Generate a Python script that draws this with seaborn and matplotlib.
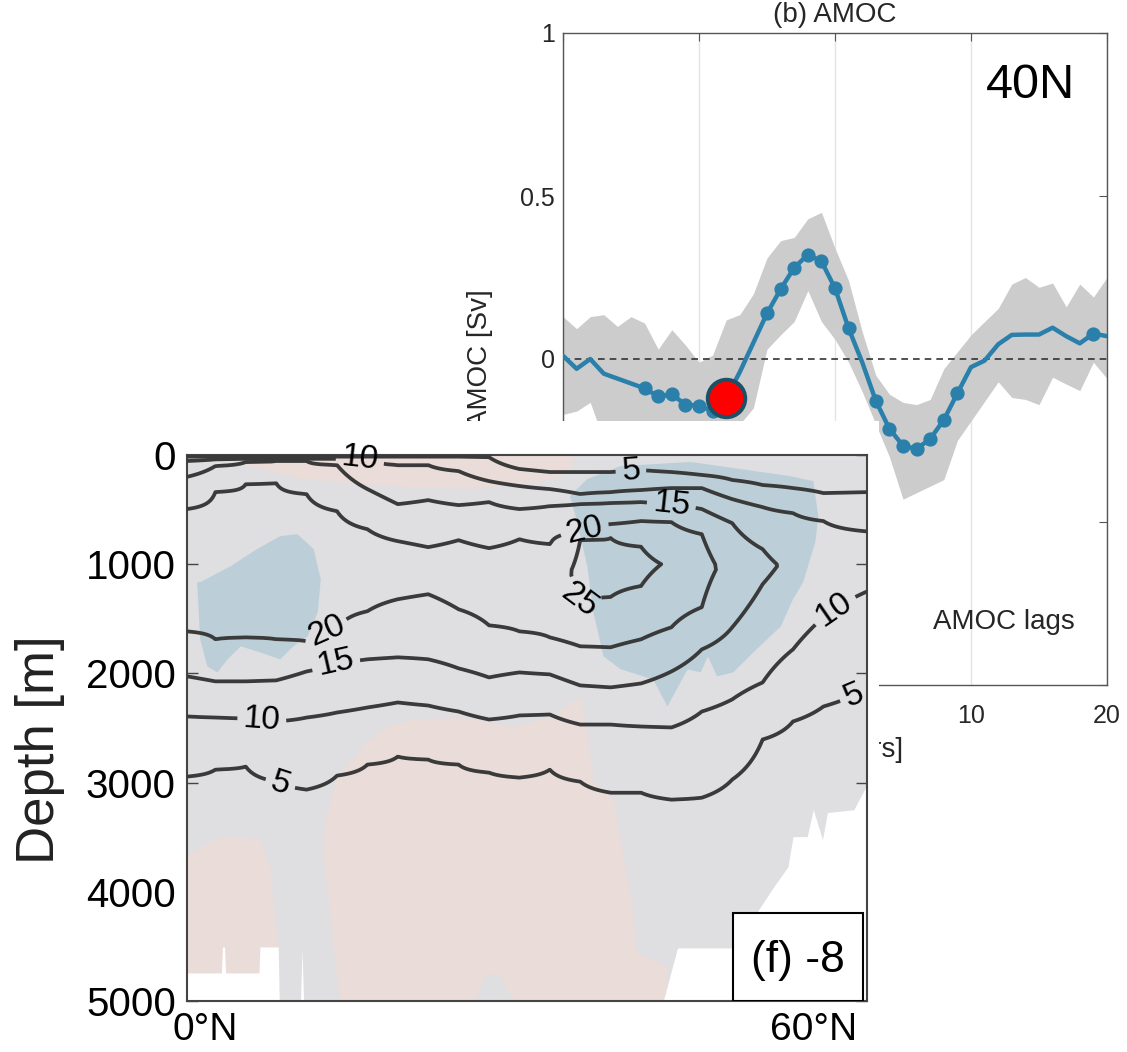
import numpy as np
import pandas as pd
import matplotlib
matplotlib.use("Agg")
import matplotlib.pyplot as plt
from matplotlib.patches import Rectangle
from matplotlib.ticker import FuncFormatter
import seaborn as sns

nan = np.nan

# ---- panel (b): AMOC lag regression ----
lags = list(range(-20, 21))
amoc_mean = [0.01, -0.03, 0.0, -0.045, -0.06, -0.075, -0.09, -0.115, -0.108, -0.14,
             -0.143, -0.16, -0.12, -0.04, 0.05, 0.14, 0.214, 0.28, 0.32, 0.30,
             0.217, 0.094, -0.01, -0.128, -0.214, -0.266, -0.276, -0.245, -0.187, -0.105,
             -0.025, -0.005, 0.045, 0.074, 0.075, 0.075, 0.096, 0.07, 0.048, 0.078, 0.07]
amoc_upper = [0.13, 0.093, 0.13, 0.136, 0.10, 0.13, 0.11, 0.03, 0.09, 0.043,
              -0.01, 0.012, 0.12, 0.136, 0.20, 0.31, 0.363, 0.373, 0.43, 0.45,
              0.34, 0.24, 0.084, -0.05, -0.108, -0.133, -0.14, -0.124, -0.03, 0.022,
              0.074, 0.115, 0.155, 0.23, 0.25, 0.22, 0.233, 0.16, 0.23, 0.19, 0.25]
amoc_lower = [-0.17, -0.16, -0.133, -0.25, -0.28, -0.30, -0.30, -0.32, -0.30, -0.33,
              -0.32, -0.33, -0.28, -0.20, -0.15, 0.03, 0.074, 0.115, 0.21, 0.115,
              0.06, -0.01, -0.10, -0.20, -0.30, -0.43, -0.41, -0.39, -0.37, -0.25,
              -0.19, -0.13, -0.07, -0.118, -0.124, -0.14, -0.056, -0.077, -0.097, -0.01, -0.06]
signif_lags = [-14, -13, -12, -11, -10, -9, -8, -5, -4, -3, -2, -1, 0, 1,
               3, 4, 5, 6, 7, 8, 9, 19]
highlight_lag = -8
amoc_xticks = [-20, -10, 0, 10, 20]
amoc_yticks = [-1, -0.5, 0, 0.5, 1]

# ---- panel (f): overturning streamfunction [Sv] ----
# depth [m] where each contour level crosses, per latitude node (nan = level absent)
lat_nodes = [-1.8, 1, 4, 7, 10, 13, 16, 19, 22, 25, 28, 31, 34, 37, 40, 43, 46, 49, 52, 55, 58, 61, 65.3]
depth_05_up = [15, 15, 15, 15, 15, 15, 15, 15, 15, 15, 20, 128, 156, 156, 156, 138, 156, 183, 229, 275, 303, 349, 340]
depth_10_up = [55, 40, 35, 35, 35, 35, 35, 92, 92, 147, 239, 284, 312, 358, 340, 321, 303, 303, 404, 477, 532, 605, 700]
depth_15_up = [200, 101, 64, 55, 55, 92, 312, 450, 413, 459, 431, 495, 468, 450, 440, 431, 450, 495, 624, 862, nan, nan, nan]
depth_20_up = [495, 339, 266, 257, 358, 514, 679, 789, 844, 780, 853, 771, 816, 706, 633, 605, 615, 725, nan, nan, nan, nan, nan]
depth_25_up = [nan] * 13 + [780, 760, 840] + [nan] * 7
psi_max = [22.5] * 12 + [23, 26, 26.5, 26, 24.5, 21.5, 18.5, 16, 14, 12, 11]
depth_max = [1050, 1000, 1000, 1000, 1000, 1000, 1000, 1000, 1050, 1050, 1100, 1100,
             1100, 1050, 1000, 1000, 1000, 1000, 1050, 1020, 1000, 1000, 1000]
depth_25_lo = [nan] * 13 + [1350, 1300, 1200] + [nan] * 7
depth_20_lo = [1615, 1688, 1670, 1688, 1706, 1596, 1431, 1321, 1275, 1413, 1560, 1615, 1670, 1752, 1761, 1688, 1578, 1394, nan, nan, nan, nan, nan]
depth_15_lo = [2027, 2073, 2073, 2064, 1982, 1899, 1871, 1853, 1871, 1954, 2037, 1991, 2009, 2110, 2128, 2092, 1982, 1780, 1578, 1183, nan, nan, nan]
depth_10_lo = [2394, 2404, 2413, 2440, 2404, 2358, 2312, 2266, 2294, 2349, 2422, 2385, 2376, 2468, 2468, 2486, 2495, 2349, 2238, 2083, 1780, 1486, 1250]
depth_05_lo = [2945, 2881, 2853, 2991, 3064, 2936, 2835, 2761, 2789, 2835, 2908, 2954, 2881, 2991, 3092, 3092, 3156, 3138, 2972, 2605, 2440, 2303, 2150]
depth_zero = [4400] * 19 + [4000, 3500, 3300, 3200]
contour_levels = [5, 10, 15, 20, 25]
label_pos = [(15.3, 35), (42, 140), (46, 450), (37.5, 700), (36.8, 1330), (12, 1630),
             (12.8, 1890), (5.6, 2410), (7.5, 2990), (62.2, 1430), (64.0, 2190)]

# shaded anomaly regions (lat, depth)
blue_w_lat = [-0.8, -0.5, 0.2, 1.2, 2.2, 3.5, 5.4, 7.4, 8.7, 10.1, 11.1, 11.4, 10.7, 9.1, 7.4, 5.1, 2.5, -0.5]
blue_w_dep = [1165, 1688, 1936, 1991, 1872, 1752, 1807, 1872, 1752, 1660, 1440, 1138, 862, 725, 743, 862, 1018, 1165]
blue_e_lat = [36.0, 37.7, 41.0, 47.9, 57.7, 60.0, 60.5, 60.2, 59.0, 58.0, 56.8, 54.1, 52.1, 50.5,
              49.6, 48.9, 47.6, 45.6, 44.2, 41.0, 39.3, 38.3, 37.7, 36.7]
blue_e_dep = [376, 220, 101, 64, 193, 239, 560, 798, 1165, 1321, 1569, 1807, 1991, 2027,
              1844, 1991, 1963, 2303, 2055, 1963, 1844, 1440, 1018, 615]
pink_top_lat = [3.5, 36.5, 36.0, 33.0, 27.0, 19.0, 9.4, 3.5]
pink_top_dep = [0, 0, 170, 250, 310, 290, 220, 80]
pink_mid_lat = [13.3, 11.6, 12.0, 13.0, 16.0, 18.0, 20.5, 25.5, 30.4, 34.4, 36.0, 37.0, 37.7, 38.3,
                40.3, 42.0, 42.6, 45.6, 45.6, 30.4, 29.1, 27.6, 26.7]
pink_mid_dep = [5000, 3615, 3312, 2945, 2633, 2486, 2422, 2404, 2495, 2394, 2266, 2238, 2541, 3000,
                3156, 4073, 4559, 4688, 5000, 5000, 4761, 4761, 5000]
pink_sw_lat = [-1.8, 0.8, 2.5, 5.4, 6.4, 7.1, 7.4, -1.8]
pink_sw_dep = [3679, 3523, 3495, 3523, 3771, 4376, 5000, 5000]

# sea floor
bathy_lat = [-1.8, 1.6, 1.7, 1.9, 2.0, 5.3, 5.4, 7.2, 7.3, 9.4, 9.55, 9.7, 45.2, 46.6, 52.1,
             56.1, 57.5, 58.0, 59.4, 60.0, 60.9, 61.4, 64.0, 65.3]
bathy_dep = [4743, 4743, 4505, 4505, 4743, 4743, 4505, 4505, 5000, 5000, 4530, 5000, 5000, 4514, 4514,
             3954, 3770, 3495, 3495, 3248, 3523, 3275, 3248, 3020]

W, H = 1127, 1052


def px_box(left, top, right, bottom):
    return [left / W, 1 - bottom / H, (right - left) / W, (bottom - top) / H]


def build_psi(depth):
    ups = [(depth_05_up, 5), (depth_10_up, 10), (depth_15_up, 15), (depth_20_up, 20), (depth_25_up, 25)]
    los = [(depth_25_lo, 25), (depth_20_lo, 20), (depth_15_lo, 15), (depth_10_lo, 10), (depth_05_lo, 5)]
    cols = []
    for i in range(len(lat_nodes)):
        kz, kv = [0.0], [0.0]
        for d, v in ups:
            if not np.isnan(d[i]):
                kz.append(d[i]); kv.append(v)
        kz.append(depth_max[i]); kv.append(psi_max[i])
        for d, v in los:
            if not np.isnan(d[i]):
                kz.append(d[i]); kv.append(v)
        kz.append(depth_zero[i]); kv.append(0.0)
        cols.append(np.interp(depth, kz, kv))
    return np.array(cols).T


sns.set_theme(style="white")
plt.rcParams["font.family"] = ["Liberation Sans", "DejaVu Sans"]

fig = plt.figure(figsize=(W / 100, H / 100), dpi=100)

# ---------- (b) AMOC ----------
blue = "#2a80ab"
txt = "#262626"
ax_b = fig.add_axes(px_box(563, 33, 1107, 685))
ax_b.set_zorder(0)
df = pd.DataFrame({"lag": lags, "amoc": amoc_mean, "lo": amoc_lower, "hi": amoc_upper})
ax_b.fill_between(df["lag"], df["lo"], df["hi"], color="#cccccc", lw=0, zorder=1)
ax_b.axhline(0, color="#333333", ls=(0, (4, 3)), lw=1.2, zorder=2)
sns.lineplot(data=df, x="lag", y="amoc", color=blue, lw=3.2, ax=ax_b, zorder=3)
sig = df[df["lag"].isin(signif_lags)]
sns.scatterplot(data=sig, x="lag", y="amoc", color=blue, s=105, linewidth=0, ax=ax_b, zorder=4)
hl = df[df["lag"] == highlight_lag]
ax_b.plot(hl["lag"], hl["amoc"], "o", ms=27, mfc="#ff0000", mec="#1d4f66", mew=2.8, zorder=5)

ax_b.set_xlim(-20, 20)
ax_b.set_ylim(-1, 1)
ax_b.set_xticks(amoc_xticks)
ax_b.set_yticks(amoc_yticks)
ax_b.yaxis.set_major_formatter(FuncFormatter(lambda v, p: f"{v:g}"))
ax_b.grid(axis="x", color="#e4e4e4", lw=1)
ax_b.tick_params(direction="in", top=True, right=True, length=6, width=0.8,
                 colors="#555555", labelcolor=txt, labelsize=18)
ax_b.tick_params(axis="x", pad=14)
ax_b.tick_params(axis="y", pad=6)
for sp in ax_b.spines.values():
    sp.set_color("#555555")
    sp.set_linewidth(1)
ax_b.set_title("(b) AMOC", fontsize=20, color=txt, pad=8)
ax_b.set_xlabel("Lag [years]", fontsize=20, color=txt)
ax_b.set_ylabel("AMOC [Sv]", fontsize=20, color=txt)
ax_b.xaxis.set_label_coords(0.5, -0.08)
ax_b.yaxis.set_label_coords(-0.129, 0.5)
ax_b.text(0.86, 0.919, "40N", transform=ax_b.transAxes, fontsize=35,
          ha="center", va="center", color="black")
ax_b.text(0.811, 0.097, "AMOC lags", transform=ax_b.transAxes, fontsize=20,
          ha="center", va="center", color=txt)

# white panel behind the section plot
fig.add_artist(Rectangle((0, 0), 879 / W, 1 - 421 / H, transform=fig.transFigure,
                         facecolor="white", edgecolor="none", zorder=1))

# ---------- (f) section ----------
ax_f = fig.add_axes(px_box(187, 455, 867, 1001))
ax_f.set_zorder(2)
ax_f.set_facecolor("#dfdfe2")
pink = "#eadcd9"
lblue = "#bccfd8"
for xs, ys, col in [(pink_top_lat, pink_top_dep, pink), (pink_mid_lat, pink_mid_dep, pink),
                    (pink_sw_lat, pink_sw_dep, pink), (blue_w_lat, blue_w_dep, lblue),
                    (blue_e_lat, blue_e_dep, lblue)]:
    ax_f.fill(xs, ys, color=col, lw=0, zorder=1)
ax_f.fill_between(bathy_lat, bathy_dep, 5300, color="white", lw=0, zorder=2)

depth_grid = np.arange(0, 5001, 5)
psi = build_psi(depth_grid)
ax_f.set_xlim(-1.8, 65.3)
ax_f.set_ylim(5000, 0)
cs = ax_f.contour(lat_nodes, depth_grid, psi, levels=contour_levels,
                  colors="#3a3a3a", linewidths=2.7, zorder=3)
labels = ax_f.clabel(cs, fmt="%d", fontsize=24, colors="black", inline=True,
                     inline_spacing=6, manual=label_pos)
for t in labels:
    t.set_clip_on(False)

ax_f.set_xticks([0, 60])
ax_f.set_xticklabels(["0°N", "60°N"])
ax_f.set_yticks([0, 1000, 2000, 3000, 4000, 5000])
ax_f.tick_params(axis="y", direction="in", left=True, right=True, length=8, width=1,
                 colors="#444444", labelcolor="black", labelsize=29, pad=8)
ax_f.tick_params(axis="x", direction="in", length=0, labelsize=28, labelcolor="black", pad=8)
for sp in ax_f.spines.values():
    sp.set_color("#444444")
    sp.set_linewidth(1.5)
ax_f.set_ylabel("Depth [m]", fontsize=38, color="#222222")
ax_f.yaxis.set_label_coords(-0.179, 0.46)

ax_f.add_patch(Rectangle((0.803, 0.0), 0.191, 0.161, transform=ax_f.transAxes,
                         facecolor="white", edgecolor="black", lw=1.5, zorder=6))
ax_f.text(0.899, 0.075, "(f) -8", transform=ax_f.transAxes, fontsize=32,
          ha="center", va="center", color="black", zorder=7)

fig.savefig("out.png", dpi=100)
